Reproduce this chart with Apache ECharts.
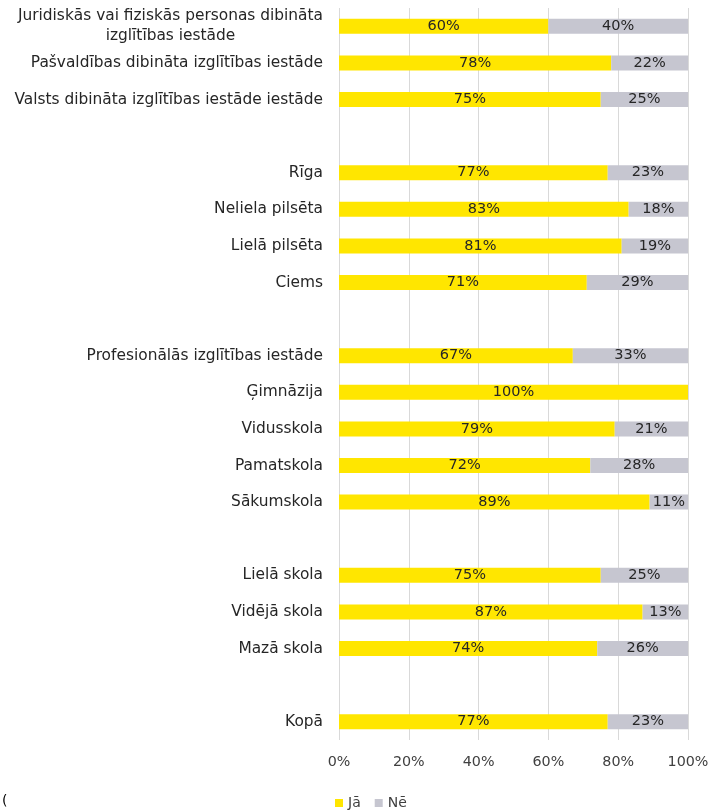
<!DOCTYPE html>
<html>
<head>
<meta charset="utf-8">
<script src="https://cdn.jsdelivr.net/npm/echarts@6/dist/echarts.min.js"></script>
<style>html,body{margin:0;padding:0;background:#fff}#c{width:717px;height:810px}</style>
</head>
<body>
<div id="c"></div>
<script>
var categories = [
  "Juridiskās vai fiziskās personas dibināta\nizglītības iestāde",
  "Pašvaldības dibināta izglītības iestāde",
  "Valsts dibināta izglītības iestāde iestāde",
  "",
  "Rīga",
  "Neliela pilsēta",
  "Lielā pilsēta",
  "Ciems",
  " ",
  "Profesionālās izglītības iestāde",
  "Ģimnāzija",
  "Vidusskola",
  "Pamatskola",
  "Sākumskola",
  "  ",
  "Lielā skola",
  "Vidējā skola",
  "Mazā skola",
  "   ",
  "Kopā"
];
var jaValues = [60, 78, 75, null, 77, 83, 81, 71, null, 67, 100, 79, 72, 89, null, 75, 87, 74, null, 77];
var neValues = [40, 22, 25, null, 23, 18, 19, 29, null, 33, 0, 21, 28, 11, null, 25, 13, 26, null, 23];
var seriesNames = ["Jā", "Nē"];
var xTicks = [0, 20, 40, 60, 80, 100];

var FONT = "DejaVu Sans";
var chart = echarts.init(document.getElementById('c'), null, {renderer: 'canvas'});
function lbl(p) { return (p.value === null || p.value === 0) ? '' : p.value + '%'; }
chart.setOption({
  animation: false,
  grid: {left: 339, right: 29, top: 8, bottom: 70, containLabel: false},
  legend: {
    data: seriesNames, left: 330, top: 791, itemWidth: 8, itemHeight: 8, itemGap: 14,
    icon: 'rect', textStyle: {fontFamily: FONT, fontSize: 14, color: '#404040'}
  },
  xAxis: {
    type: 'value', min: 0, max: 100, interval: 20,
    axisLine: {show: false}, axisTick: {show: false},
    splitLine: {lineStyle: {color: '#D9D9D9', width: 1}},
    axisLabel: {formatter: function (v) { return xTicks.indexOf(v) >= 0 ? v + '%' : ''; },
      fontFamily: FONT, fontSize: 14.3, color: '#404040', margin: 15}
  },
  yAxis: {
    type: 'category', data: categories, inverse: true,
    axisLine: {show: false}, axisTick: {show: false},
    axisLabel: {
      fontFamily: FONT, fontSize: 15.4, color: '#262626', margin: 16,
      formatter: function (v) {
        if (v.indexOf('\n') >= 0) {
          return v.split('\n').map(function (s) { return '{c|' + s + '}'; }).join('\n');
        }
        return v;
      },
      rich: {c: {align: 'center', fontFamily: FONT, fontSize: 15.4, color: '#262626', lineHeight: 20}}
    }
  },
  series: [
    {name: seriesNames[0], type: 'bar', stack: 's', data: jaValues, barWidth: 15,
     itemStyle: {color: '#FFE600'},
     label: {show: true, position: 'inside', formatter: lbl, fontFamily: FONT, fontSize: 14.5, color: '#262626'}},
    {name: seriesNames[1], type: 'bar', stack: 's', data: neValues, barWidth: 15,
     itemStyle: {color: '#C6C6D0'},
     label: {show: true, position: 'inside', formatter: lbl, fontFamily: FONT, fontSize: 14.5, color: '#262626'}}
  ],
  graphic: [{type: 'text', left: 2, top: 794, style: {text: '(', fontFamily: FONT, fontSize: 14, fill: '#000'}}]
});
</script>
</body>
</html>
